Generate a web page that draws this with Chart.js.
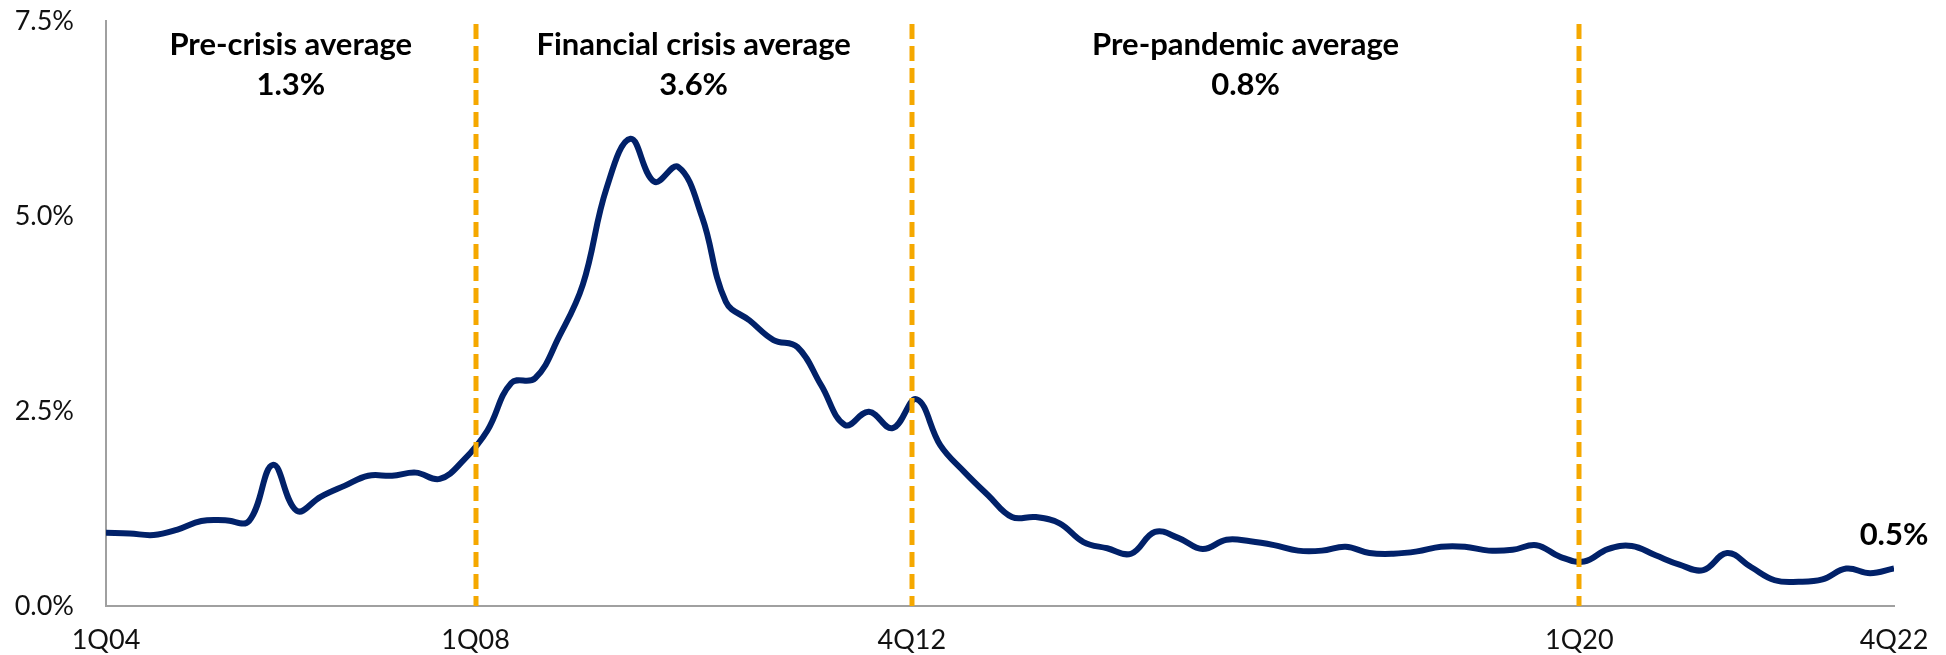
<!DOCTYPE html>
<html>
<head>
<meta charset="utf-8">
<script src="https://cdn.jsdelivr.net/npm/chart.js@4.4.0/dist/chart.umd.min.js"></script>
<style>
  body { margin: 0; background: #fff; }
  #wrap { width: 1946px; height: 655px; }
</style>
</head>
<body>
<div id="wrap"><canvas id="chart"></canvas></div>
<script>
var quarters = [
  '1Q04','2Q04','3Q04','4Q04','1Q05','2Q05','3Q05','4Q05','1Q06','2Q06','3Q06','4Q06',
  '1Q07','2Q07','3Q07','4Q07','1Q08','2Q08','3Q08','4Q08','1Q09','2Q09','3Q09','4Q09',
  '1Q10','2Q10','3Q10','4Q10','1Q11','2Q11','3Q11','4Q11','1Q12','2Q12','3Q12','4Q12',
  '1Q13','2Q13','3Q13','4Q13','1Q14','2Q14','3Q14','4Q14','1Q15','2Q15','3Q15','4Q15',
  '1Q16','2Q16','3Q16','4Q16','1Q17','2Q17','3Q17','4Q17','1Q18','2Q18','3Q18','4Q18',
  '1Q19','2Q19','3Q19','4Q19','1Q20','2Q20','3Q20','4Q20','1Q21','2Q21','3Q21','4Q21',
  '1Q22','2Q22','3Q22','4Q22'
];
var rates = [
  0.94, 0.93, 0.91, 0.98, 1.09, 1.10, 1.09, 1.81, 1.22, 1.40, 1.54, 1.67,
  1.67, 1.71, 1.63, 1.87, 2.25, 2.86, 2.92, 3.45, 4.12, 5.36, 5.99, 5.44,
  5.63, 4.99, 3.90, 3.66, 3.41, 3.32, 2.83, 2.32, 2.49, 2.28, 2.65, 2.06,
  1.72, 1.42, 1.14, 1.14, 1.06, 0.82, 0.74, 0.67, 0.95, 0.87, 0.73, 0.85,
  0.83, 0.78, 0.71, 0.71, 0.76, 0.68, 0.67, 0.70, 0.76, 0.76, 0.71, 0.72,
  0.78, 0.63, 0.57, 0.73, 0.77, 0.65, 0.53, 0.46, 0.68, 0.50, 0.33, 0.31,
  0.34, 0.48, 0.42, 0.48
];

// period dividers sit between quarters (position in quarter index units)
var dividerAt = [15.5, 33.8, 61.8];
var tickLabels = ['1Q04', '1Q08', '4Q12', '1Q20', '4Q22'];
var tickAt = [0, 15.5, 33.8, 61.8, 75];
var periodNames = ['Pre-crisis average', 'Financial crisis average', 'Pre-pandemic average'];
var periodAvgs = [1.3, 3.6, 0.8];
var yTicks = [0, 2.5, 5, 7.5];

var navy = '#012169';
var orange = '#f5a800';
var axisGrey = '#a0a0a0';

var points = rates.map((v, i) => ({ x: i, y: v }));

const overlay = {
  id: 'overlay',
  afterDatasetsDraw(chart) {
    const ctx = chart.ctx;
    const area = chart.chartArea;
    const xs = chart.scales.x;
    ctx.save();
    // dashed period dividers
    ctx.strokeStyle = orange;
    ctx.lineWidth = 5;
    ctx.setLineDash([15, 7]);
    dividerAt.forEach(d => {
      const px = Math.round(xs.getPixelForValue(d));
      ctx.beginPath();
      ctx.moveTo(px, area.top + 3);
      ctx.lineTo(px, area.bottom);
      ctx.stroke();
    });
    ctx.setLineDash([]);

    // period averages
    ctx.fillStyle = '#000';
    ctx.textAlign = 'center';
    ctx.textBaseline = 'middle';
    ctx.font = 'bold 31px Lato';
    var bounds = [0].concat(dividerAt);
    periodNames.forEach((name, i) => {
      const cx = xs.getPixelForValue((bounds[i] + bounds[i + 1]) / 2);
      ctx.fillText(name, cx, area.top + 24);
      ctx.fillText(periodAvgs[i].toFixed(1) + '%', cx, area.top + 64);
    });

    // last value label
    const meta = chart.getDatasetMeta(0);
    const last = meta.data[meta.data.length - 1];
    ctx.fillText(rates[rates.length - 1].toFixed(1) + '%', last.x, last.y - 34);
    ctx.restore();
  }
};

const ctx = document.getElementById('chart').getContext('2d');
const chart = new Chart(ctx, {
  type: 'line',
  data: {
    datasets: [{
      data: points,
      borderColor: navy,
      borderWidth: 6,
      pointRadius: 0,
      tension: 0.4,
      fill: false
    }]
  },
  options: {
    responsive: true,
    maintainAspectRatio: false,
    animation: false,
    layout: { padding: { top: 21, right: 52, left: 0, bottom: 0 } },
    plugins: { legend: { display: false }, tooltip: { enabled: false } },
    scales: {
      x: {
        type: 'linear',
        min: 0,
        max: quarters.length - 1,
        afterBuildTicks: axis => { axis.ticks = tickAt.map(v => ({ value: v })); },
        afterFit: axis => { axis.height = 49; axis.paddingLeft = 0; axis.paddingRight = 0; },
        grid: { display: false, drawTicks: false },
        border: { display: true, color: axisGrey, width: 2 },
        ticks: {
          autoSkip: false,
          maxRotation: 0,
          padding: 18,
          color: '#111',
          font: { family: 'Lato', size: 27 },
          callback: (v, i) => tickLabels[i]
        }
      },
      y: {
        min: 0,
        max: 7.5,
        afterBuildTicks: axis => { axis.ticks = yTicks.map(v => ({ value: v })); },
        afterFit: axis => { axis.width = 106; axis.paddingTop = 0; axis.paddingBottom = 0; },
        grid: { display: false, drawTicks: false },
        border: { display: true, color: axisGrey, width: 2 },
        ticks: {
          padding: 32,
          color: '#111',
          font: { family: 'Lato', size: 27 },
          callback: v => v.toFixed(1) + '%'
        }
      }
    }
  },
  plugins: [overlay]
});
</script>
</body>
</html>
